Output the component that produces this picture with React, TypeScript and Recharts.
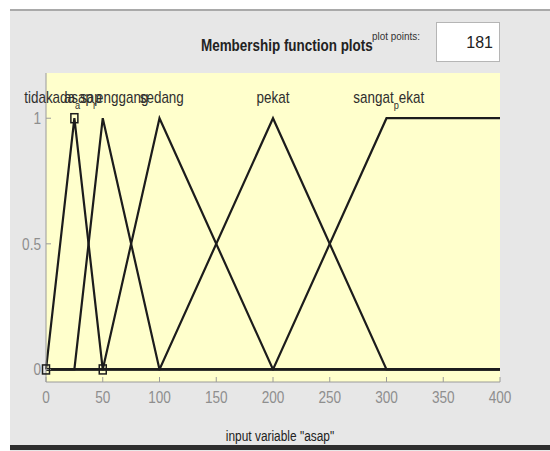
import React from "react";
import {
  LineChart,
  Line,
  XAxis,
  YAxis,
  CartesianGrid,
  ReferenceDot,
} from "recharts";

// x positions where the membership functions change slope
const xs = [0, 25, 50, 100, 200, 300, 400];

// membership values at those x positions
const tidakAdaAsap = [0, 1, 0, 0, 0, 0, 0];
const asapRenggang = [0, 0, 1, 0, 0, 0, 0];
const sedang = [0, 0, 0, 1, 0, 0, 0];
const pekat = [0, 0, 0, 0, 1, 0, 0];
const sangatPekat = [0, 0, 0, 0, 0, 1, 1];

const mfNames = ["tidakada_asap", "asap_renggang", "sedang", "pekat", "sangat_pekat"];
const mfLabelX = [15, 53, 102, 200, 302];
const markedX = [0, 25, 50];

const xTicks = [0, 50, 100, 150, 200, 250, 300, 350, 400];
const yTicks = [0, 0.5, 1];

const chartData = xs.map((x, i) => ({
  x,
  tidakAdaAsap: tidakAdaAsap[i],
  asapRenggang: asapRenggang[i],
  sedang: sedang[i],
  pekat: pekat[i],
  sangatPekat: sangatPekat[i],
}));

const series = ["tidakAdaAsap", "asapRenggang", "sedang", "pekat", "sangatPekat"];

const FONT = "'Liberation Sans', Arial, sans-serif";
const LINE = "#1c1c1c";
const AXIS = "#9a9a9a";
const TICK_TEXT = "#8e8e8e";
const SQUEEZE = 0.84; // the screenshot text is narrow

// draws "main_sub" the way matlab's tex interpreter does it
const mfLabel = (name: string) => (props: any) => {
  const vb = props.viewBox || {};
  const cx = vb.x + vb.width / 2;
  const cy = vb.y + vb.height / 2;
  const idx = name.indexOf("_");
  const main = idx < 0 ? name : name.slice(0, idx);
  const sub = idx < 0 ? "" : name.slice(idx + 1, idx + 2);
  const rest = idx < 0 ? "" : name.slice(idx + 2);
  return (
    <g transform={`translate(${cx},${cy - 15}) scale(${SQUEEZE},1)`}>
      <text x={0} y={0} textAnchor="middle" fontSize={16} fill="#2e2e2e" fontFamily={FONT}>
        <tspan>{main}</tspan>
        {sub && (
          <tspan dy={6} fontSize={11}>
            {sub}
          </tspan>
        )}
        {rest && <tspan dy={-6}>{rest}</tspan>}
      </text>
    </g>
  );
};

const XTick = (props: any) => {
  const { x, y, payload } = props;
  return (
    <g transform={`translate(${x},${y + 11}) scale(0.85,1)`}>
      <text x={0} y={0} textAnchor="middle" fontSize={16} fill={TICK_TEXT} fontFamily={FONT}>
        {payload.value}
      </text>
    </g>
  );
};

const YTick = (props: any) => {
  const { x, y, payload } = props;
  return (
    <g transform={`translate(${x},${y + 6}) scale(0.85,1)`}>
      <text x={0} y={0} textAnchor="end" fontSize={16} fill={TICK_TEXT} fontFamily={FONT}>
        {payload.value}
      </text>
    </g>
  );
};

const SquareDot = (props: any) => {
  const { cx, cy, payload } = props;
  if (!markedX.includes(payload.x)) return <g key={payload.x} />;
  return (
    <rect
      key={payload.x}
      x={cx - 3.5}
      y={cy - 4.5}
      width={7}
      height={9}
      fill="none"
      stroke={LINE}
      strokeWidth={1.5}
    />
  );
};

const App: React.FC = () => {
  return (
    <div
      style={{
        position: "relative",
        width: 550,
        height: 451,
        background: "#fff",
        overflow: "hidden",
        fontFamily: FONT,
      }}
    >
      <style>{"body{margin:0}"}</style>
      <div
        style={{
          position: "absolute",
          left: 10,
          top: 9,
          width: 540,
          height: 442,
          background: "#e7e7e7",
          borderTop: "2px solid #a9a9a9",
        }}
      />
      <div style={{ position: "absolute", left: 0, top: 0 }}>
        <LineChart
          width={550}
          height={451}
          data={chartData}
          margin={{ top: 73, right: 50, bottom: 29, left: 6 }}
        >
          <CartesianGrid horizontal={false} vertical={false} fill="#ffffcc" />
          <XAxis
            dataKey="x"
            type="number"
            domain={[0, 400]}
            ticks={xTicks}
            height={40}
            tickSize={-5}
            tickMargin={15}
            stroke={AXIS}
            tick={<XTick />}
          />
          <XAxis
            xAxisId="top"
            orientation="top"
            dataKey="x"
            type="number"
            domain={[0, 400]}
            ticks={xTicks}
            height={0}
            tickSize={-5}
            tickFormatter={() => ""}
            stroke={AXIS}
          />
          <YAxis
            type="number"
            domain={[-0.05, 1.18]}
            ticks={yTicks}
            width={40}
            tickSize={-5}
            tickMargin={10}
            stroke={AXIS}
            allowDataOverflow
            tick={<YTick />}
          />
          <YAxis
            yAxisId="right"
            orientation="right"
            type="number"
            domain={[-0.05, 1.18]}
            width={0}
            tick={false}
            tickLine={false}
            stroke={AXIS}
          />
          {series.map((key) => (
            <Line
              key={key}
              type="linear"
              dataKey={key}
              stroke={LINE}
              strokeWidth={2.2}
              dot={key === "tidakAdaAsap" ? SquareDot : false}
              activeDot={false}
              isAnimationActive={false}
            />
          ))}
          {mfNames.map((name, i) => (
            <ReferenceDot
              key={name}
              x={mfLabelX[i]}
              y={1}
              r={0}
              fill="none"
              stroke="none"
              label={{ content: mfLabel(name) }}
            />
          ))}
        </LineChart>
      </div>
      <div
        style={{
          position: "absolute",
          left: 185,
          top: 37,
          width: 200,
          textAlign: "center",
          fontSize: 16,
          fontWeight: "bold",
          color: "#222",
          whiteSpace: "nowrap",
          transform: "scaleX(0.84)",
        }}
      >
        Membership function plots
      </div>
      <div
        style={{
          position: "absolute",
          left: 372,
          top: 30,
          fontSize: 11,
          color: "#333",
          whiteSpace: "nowrap",
          transform: "scaleX(0.9)",
          transformOrigin: "left center",
        }}
      >
        plot points:
      </div>
      <div
        style={{
          position: "absolute",
          left: 436,
          top: 22,
          width: 64,
          height: 40,
          boxSizing: "border-box",
          background: "#fff",
          border: "1px solid #b5b5b5",
          textAlign: "right",
          paddingRight: 6,
          lineHeight: "40px",
          fontSize: 16,
          color: "#222",
        }}
      >
        181
      </div>
      <div
        style={{
          position: "absolute",
          left: 180,
          top: 428,
          width: 200,
          textAlign: "center",
          fontSize: 14,
          color: "#222",
          whiteSpace: "nowrap",
          transform: "scaleX(0.85)",
        }}
      >
        input variable "asap"
      </div>
      <div
        style={{
          position: "absolute",
          left: 10,
          top: 445,
          width: 540,
          height: 5,
          background: "#2e2e2e",
        }}
      />
    </div>
  );
};

export default App;
